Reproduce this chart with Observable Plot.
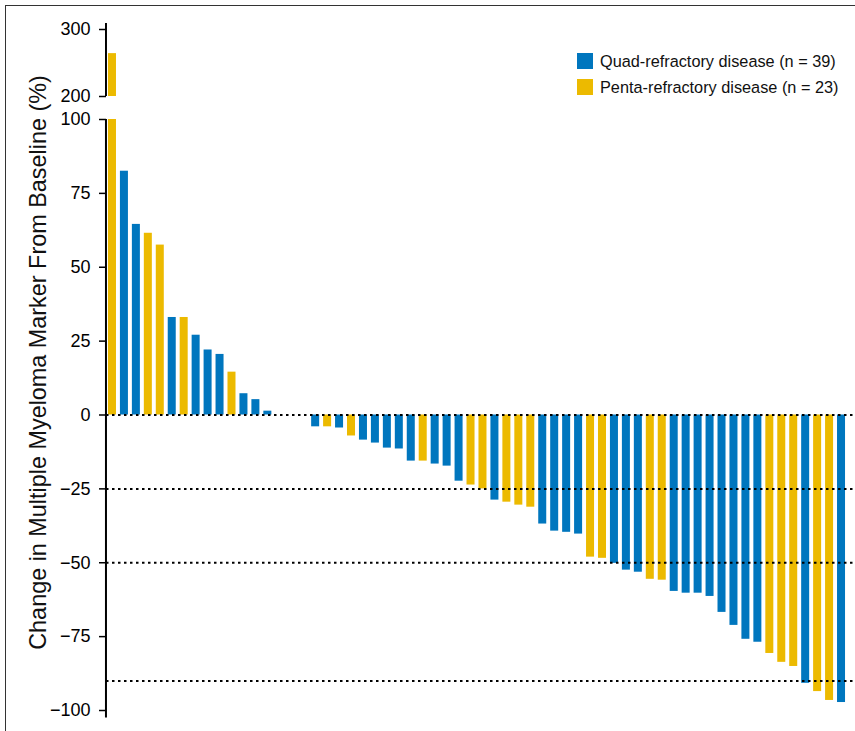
<!DOCTYPE html>
<html>
<head>
<meta charset="utf-8">
<script src="https://cdn.jsdelivr.net/npm/d3@7"></script>
<script src="https://cdn.jsdelivr.net/npm/@observablehq/plot@0.6"></script>
<style>
  body { margin: 0; background: #fff; }
  #wrap { position: relative; width: 855px; height: 731px; overflow: hidden; background: #fff;
          font-family: "Liberation Sans", Arial, Helvetica, sans-serif; }
  #frame { position: absolute; left: 5px; top: 5px; right: -10px; bottom: -10px;
           border-left: 1.5px solid #333; border-top: 1.5px solid #333; }
  #chart { position: absolute; left: 0; top: 0; }
  #chart svg g[aria-label="y-axis tick"] { stroke-width: 1.5; }
  #legend { position: absolute; left: 577px; top: 53px; font-size: 16.3px; color: #111; }
  .row { display: flex; align-items: center; height: 16px; margin-bottom: 10px; white-space: nowrap; }
  .sw { width: 16px; height: 16px; margin-right: 7px; flex: none; }
</style>
</head>
<body>
<div id="wrap">
  <div id="frame"></div>
  <div id="chart"></div>
  <div id="legend"></div>
</div>
<script>
// ---- data ----
const seriesNames = ["Quad-refractory disease (n = 39)", "Penta-refractory disease (n = 23)"];
const seriesCodes = ["Q", "P"];
const seriesColors = ["#0076be", "#ecba00"];

const groupCodes = [
  "P","Q","Q","P","P","Q","P","Q","Q","Q",
  "P","Q","Q","Q","Q","Q","P","Q","P","Q",
  "P","Q","Q","Q","Q","Q","P","Q","Q","Q",
  "P","P","Q","P","P","P","Q","Q","Q","Q",
  "P","P","Q","Q","Q","P","P","Q","Q","Q",
  "Q","Q","Q","Q","Q","P","P","P","Q","P",
  "P","Q"
];
const changes = [
  264, 82.5, 64.5, 61.5, 57.5, 33, 33, 27, 22, 20.5,
  14.5, 7.2, 5.2, 1.3, 0, 0, 0, -4, -4, -4.4,
  -7.1, -8.5, -9.5, -11.2, -11.5, -15.6, -15.6, -16.6, -17.3, -22.4,
  -23.7, -25, -28.8, -29.5, -30.5, -31.2, -36.9, -39.3, -39.7, -40.3,
  -48.1, -48.5, -50.2, -52.5, -53.2, -55.6, -55.9, -59.7, -60.3, -60.3,
  -61.4, -66.8, -71.2, -75.9, -76.9, -80.7, -83.7, -85.1, -90.8, -93.6,
  -96.6, -97.3
];
const yTicks = [-100, -75, -50, -25, 0, 25, 50, 75, 100, 200, 300];
const refLines = [0, -25, -50, -90];
const breakLow = 100;   // lower panel top
const breakHigh = 200;  // upper panel bottom
const axisSegments = [[-102.5, 100], [200, 309]];
const yLabel = "Change in Multiple Myeloma Marker From Baseline (%)";

// ---- build table ----
const ids = changes.map((_, i) => i + 1);
const rows = changes.map((v, i) => ({
  id: ids[i],
  value: v,
  group: seriesNames[seriesCodes.indexOf(groupCodes[i])]
}));
const upper = rows.filter(d => d.value > breakHigh);

const chart = Plot.plot({
  width: 855,
  height: 731,
  marginLeft: 106,
  marginRight: 0,
  marginTop: 0,
  marginBottom: 0,
  style: { fontFamily: "'Liberation Sans', Arial, Helvetica, sans-serif", fontSize: "18px", color: "#000", background: "transparent", overflow: "visible" },
  x: { type: "band", domain: ids, range: [106, 847], paddingInner: 0.33, paddingOuter: 0.165, round: false, axis: null },
  y: { type: "linear", domain: [-100, breakLow, breakHigh, 300], range: [710, 119, 96, 29], ticks: yTicks, tickSize: 7, tickPadding: 9, label: null, tickFormat: d3.format("d") },
  color: { domain: seriesNames, range: seriesColors },
  marks: [
    Plot.barY(rows, { x: "id", y1: () => 0, y2: d => Math.max(-100, Math.min(d.value, breakLow)), fill: "group" }),
    Plot.barY(upper, { x: "id", y1: () => breakHigh, y2: "value", fill: "group" }),
    Plot.ruleY(refLines, { stroke: "#000", strokeWidth: 2, strokeDasharray: "2.5,3.5" })
  ]
});
document.getElementById("chart").appendChild(chart);

// broken y-axis line drawn with the plot's own scales
const sx = chart.scale("x"), sy = chart.scale("y");
const axisX = sx.apply(ids[0]) - 2;
const svg = d3.select(chart);
svg.append("g").selectAll("line").data(axisSegments).join("line")
  .attr("x1", axisX).attr("x2", axisX)
  .attr("y1", d => sy.apply(d[0])).attr("y2", d => sy.apply(d[1]))
  .attr("stroke", "#000").attr("stroke-width", 2);

// y-axis title (condensed face if available, otherwise fitted)
const title = svg.append("text")
  .attr("transform", `translate(46,${(sy.apply(-100) + sy.apply(300)) / 2 - 7}) rotate(-90)`)
  .attr("text-anchor", "middle")
  .attr("font-family", "'Liberation Sans Narrow', 'Liberation Sans', Arial, sans-serif")
  .attr("font-size", 28)
  .attr("fill", "#111")
  .text(yLabel);
const natural = title.node().getComputedTextLength();
if (Math.abs(natural - 575) > 12) {
  title.attr("font-size", Math.min(28, 28 * 575 / natural));
}

// legend
const legend = d3.select("#legend");
seriesNames.forEach((name, i) => {
  const row = legend.append("div").attr("class", "row");
  row.append("div").attr("class", "sw").style("background", chart.scale("color").apply(name));
  row.append("span").text(name);
});
</script>
</body>
</html>
